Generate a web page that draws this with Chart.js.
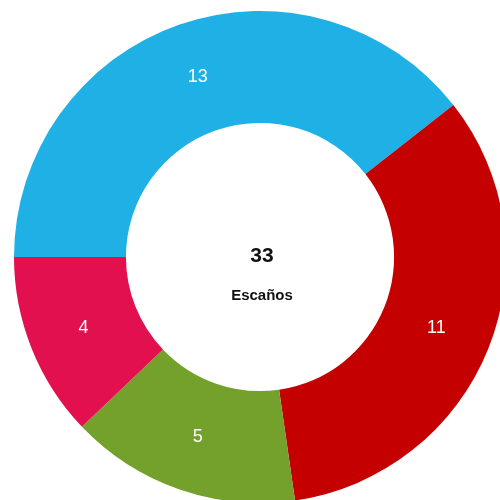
<!DOCTYPE html>
<html>
<head>
<meta charset="utf-8">
<title>Escaños</title>
<script src="https://cdn.jsdelivr.net/npm/chart.js@4.4.1/dist/chart.umd.min.js"></script>
<style>
  html, body { margin: 0; padding: 0; background: #ffffff; overflow: hidden; width: 500px; height: 500px; }
  #wrap { position: absolute; left: 14px; top: 11px; width: 492px; height: 492px; }
</style>
</head>
<body>
<div id="wrap"><canvas id="seatsChart" width="492" height="492"></canvas></div>
<script>
// Seats per party (order: clockwise from 9 o'clock)
const parties = ['Azul', 'Rojo', 'Verde', 'Rosa'];
const seats = [13, 11, 5, 4];
const partyColors = ['#1fb1e6', '#c40000', '#74a02c', '#e2104f'];
const centerLabel = 'Escaños';

const totalSeats = seats.reduce((a, b) => a + b, 0);

// Draws the seat count on each slice plus the total in the middle
const labelsPlugin = {
    id: 'seatLabels',
    afterDatasetsDraw(chart) {
        const ctx = chart.ctx;
        const meta = chart.getDatasetMeta(0);
        ctx.save();
        ctx.textAlign = 'center';
        ctx.textBaseline = 'middle';
        ctx.fillStyle = '#ffffff';
        ctx.font = '18px "Liberation Sans", Arial, sans-serif';
        meta.data.forEach((arc, i) => {
            const pos = arc.tooltipPosition();
            ctx.fillText(String(seats[i]), pos.x, pos.y);
        });

        const cx = meta.data[0].x;
        const cy = meta.data[0].y;
        ctx.fillStyle = '#111111';
        ctx.font = 'bold 21px "Liberation Sans", Arial, sans-serif';
        ctx.fillText(String(totalSeats), cx + 2, cy - 1);
        ctx.font = 'bold 15px "Liberation Sans", Arial, sans-serif';
        ctx.fillText(centerLabel, cx + 2, cy + 39);
        ctx.restore();
    }
};

const ctx = document.getElementById('seatsChart').getContext('2d');

const seatsChart = new Chart(ctx, {
    type: 'doughnut',
    data: {
        labels: parties,
        datasets: [{
            data: seats,
            backgroundColor: partyColors,
            borderWidth: 0
        }]
    },
    options: {
        responsive: false,
        animation: false,
        rotation: -90,
        cutout: '54.5%',
        layout: { padding: 0 },
        plugins: {
            legend: { display: false },
            tooltip: { enabled: false }
        }
    },
    plugins: [labelsPlugin]
});
</script>
</body>
</html>
